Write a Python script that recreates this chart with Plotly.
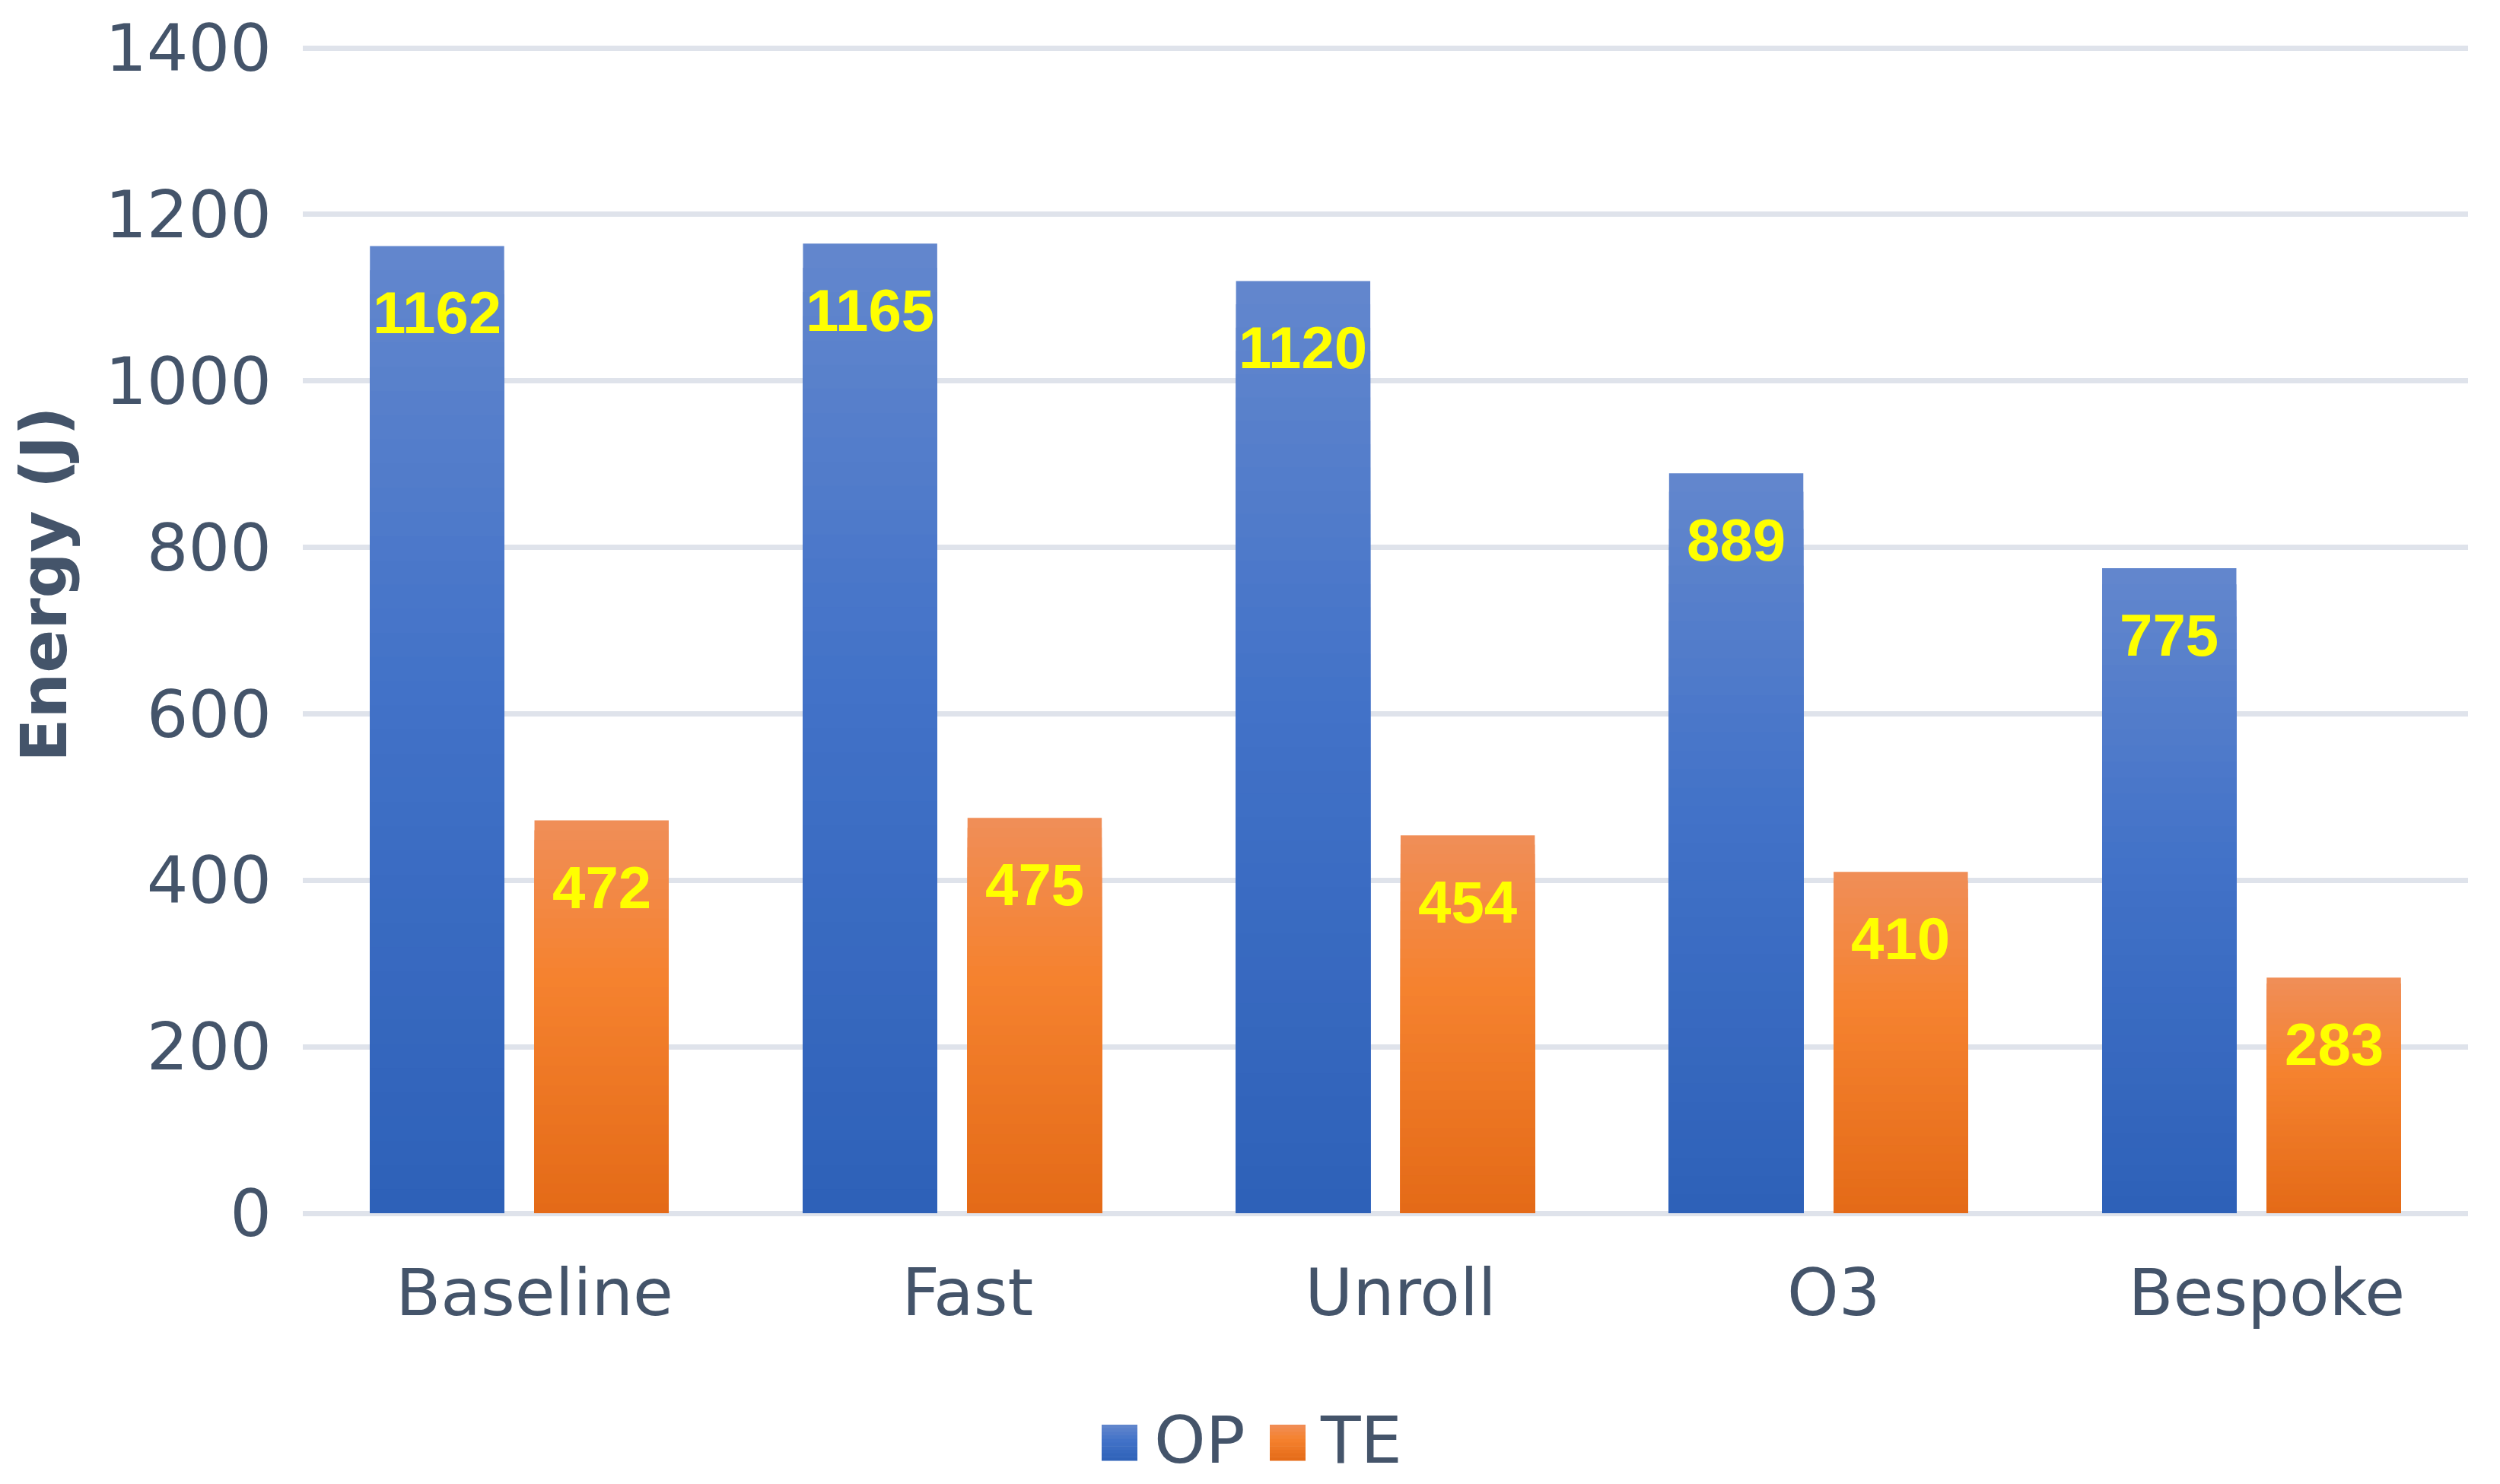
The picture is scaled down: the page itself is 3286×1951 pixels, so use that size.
import plotly.graph_objects as go

# ---------------- data ----------------
categories = ["Baseline", "Fast", "Unroll", "O3", "Bespoke"]
op_values = [1162, 1165, 1120, 889, 775]
te_values = [472, 475, 454, 410, 283]
series_names = ["OP", "TE"]
y_ticks = [0, 200, 400, 600, 800, 1000, 1200, 1400]

# ---------------- layout constants (pixels) ----------------
W, H = 3286, 1951
PL, PR, PB = 398, 3244, 1595          # plot area edges
Y1400 = 63                            # pixel row of the 1400 gridline
PT = 56                               # plot top (a bit above the top gridline so it is drawn)
Y_MAX = 1400 * (PB - PT) / (PB - Y1400)
TEXT_COLOR = "#44546A"
GRID_COLOR = "#DFE3EB"
TICK_FONT = "DejaVu Sans"
LABEL_FONT = "Liberation Sans, Arial, sans-serif"

OP_STOPS = [(0.0, "#6387CD"), (0.45, "#4272C8"), (1.0, "#2E61B8")]
TE_STOPS = [(0.0, "#F08E58"), (0.40, "#F5822F"), (1.0, "#E46A17")]

BAR_W = 0.31
OFFSETS = [-0.345, 0.035]
N_BANDS = 40


def hex2rgb(h):
    h = h.lstrip("#")
    return tuple(int(h[i:i + 2], 16) for i in (0, 2, 4))


def grad(stops, t):
    for (t0, c0), (t1, c1) in zip(stops[:-1], stops[1:]):
        if t <= t1:
            f = (t - t0) / (t1 - t0) if t1 > t0 else 0
            a, b = hex2rgb(c0), hex2rgb(c1)
            return "rgb(%d,%d,%d)" % tuple(round(a[i] + (b[i] - a[i]) * f) for i in range(3))
    return stops[-1][1]


def px2x(px):
    return (px - PL) / (PR - PL)


def px2y(py):
    return (PB - py) / (PB - PT)


fig = go.Figure()

series = [(op_values, OP_STOPS), (te_values, TE_STOPS)]
for si, (vals, stops) in enumerate(series):
    # main bar (carries the data), then overlaid shorter bands for a vertical gradient
    for k in range(N_BANDS):
        frac = (N_BANDS - k) / N_BANDS
        fig.add_trace(go.Bar(
            x=categories,
            y=[v * frac for v in vals] if k else vals,
            name=series_names[si],
            width=BAR_W,
            offset=OFFSETS[si],
            marker=dict(color=grad(stops, (k + 0.5) / N_BANDS), line=dict(width=0)),
            showlegend=False,
            hoverinfo="skip" if k else None,
        ))

# value labels inside top of bars
annotations = []
for si, vals in enumerate([op_values, te_values]):
    for ci, v in enumerate(vals):
        annotations.append(dict(
            x=ci + OFFSETS[si] + BAR_W / 2, y=v, xref="x", yref="y",
            text="<b>%d</b>" % v, showarrow=False,
            yanchor="top", xanchor="center", yshift=-42,
            font=dict(family=LABEL_FONT, size=78, color="#FFFF00"),
        ))

# y-axis title
annotations.append(dict(
    x=px2x(58), y=px2y(768), xref="paper", yref="paper",
    text="<b>Energy (J)</b>", textangle=-90, showarrow=False,
    xanchor="center", yanchor="middle",
    font=dict(family=TICK_FONT, size=84, color=TEXT_COLOR),
))

# custom legend
shapes = []
legend_items = [("OP", OP_STOPS, 1448, 1520), ("TE", TE_STOPS, 1669, 1738)]
SQ = 47
SQ_TOP = 1873
NB = 10
for name, stops, sx, tx in legend_items:
    for b in range(NB):
        y0 = SQ_TOP + SQ * b / NB
        y1 = SQ_TOP + SQ * (b + 1) / NB
        shapes.append(dict(
            type="rect", xref="paper", yref="paper",
            x0=px2x(sx), x1=px2x(sx + SQ), y0=px2y(y1 + 0.5), y1=px2y(y0),
            fillcolor=grad(stops, (b + 0.5) / NB), line=dict(width=0), layer="above",
        ))
    annotations.append(dict(
        x=px2x(tx - 5), y=px2y(1893), xref="paper", yref="paper",
        text=name, showarrow=False, xanchor="left", yanchor="middle",
        font=dict(family=TICK_FONT, size=86, color=TEXT_COLOR),
    ))

fig.update_layout(
    width=W, height=H,
    margin=dict(l=PL, r=W - PR, t=PT, b=H - PB, pad=0),
    paper_bgcolor="white", plot_bgcolor="white",
    barmode="overlay",
    showlegend=False,
    annotations=annotations,
    shapes=shapes,
    font=dict(family=TICK_FONT, color=TEXT_COLOR),
    xaxis=dict(
        type="category", categoryorder="array", categoryarray=categories,
        range=[-0.5, len(categories) - 0.5],
        showgrid=False, showline=False, zeroline=False, ticks="",
        tickfont=dict(family=TICK_FONT, size=86, color=TEXT_COLOR),
        ticklabelstandoff=47, ticklabelshift=20,
    ),
    yaxis=dict(
        range=[0, Y_MAX], tickvals=y_ticks, ticktext=[str(t) for t in y_ticks],
        showgrid=True, gridcolor=GRID_COLOR, gridwidth=7,
        zeroline=True, zerolinecolor=GRID_COLOR, zerolinewidth=7,
        showline=False, ticks="",
        tickfont=dict(family=TICK_FONT, size=86, color=TEXT_COLOR),
        ticklabelstandoff=40,
    ),
)

fig.write_html(
    "out.html",
    config={"displayModeBar": False},
    post_script="document.body.style.margin='0';document.body.style.overflow='hidden';",
)
